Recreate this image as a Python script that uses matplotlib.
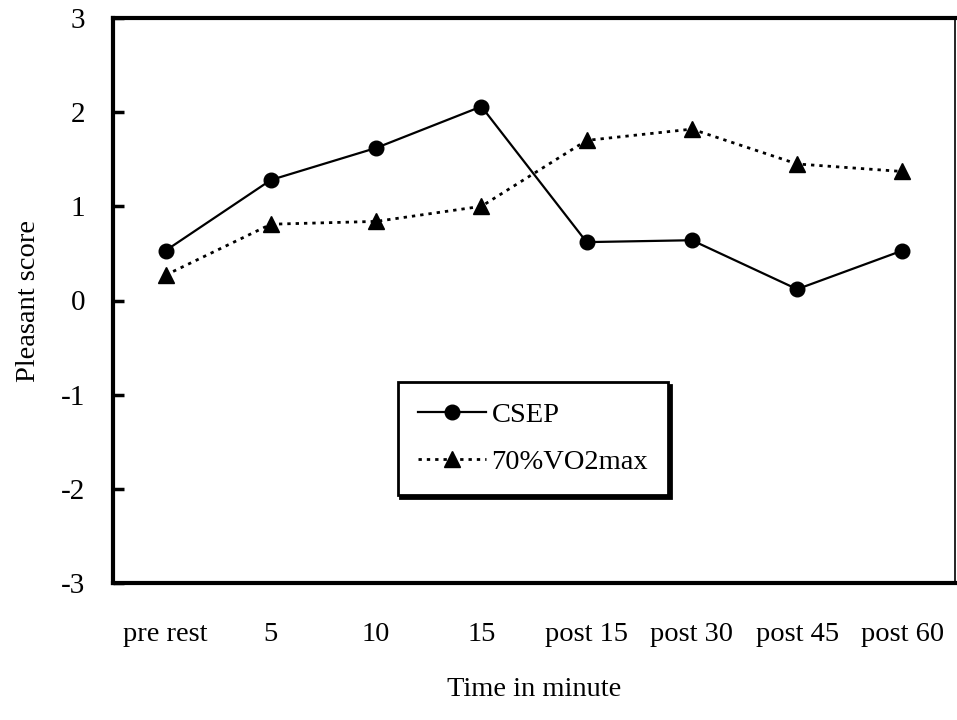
import matplotlib
matplotlib.use("Agg")
import matplotlib.pyplot as plt

categories = ["pre rest", "5", "10", "15", "post 15", "post 30", "post 45", "post 60"]
csep = [0.53, 1.28, 1.62, 2.06, 0.62, 0.64, 0.12, 0.53]
vo2 = [0.27, 0.81, 0.84, 1.00, 1.70, 1.82, 1.45, 1.37]
yticks = [-3, -2, -1, 0, 1, 2, 3]

plt.rcParams["font.family"] = ["Liberation Serif", "DejaVu Serif"]
plt.rcParams["font.size"] = 20.5
plt.rcParams["axes.unicode_minus"] = False

fig = plt.figure(figsize=(9.57, 7.2), dpi=100)
ax = fig.add_axes([113 / 957, 1 - 583 / 720, 842 / 957, 565 / 720])

x = list(range(len(categories)))
ax.plot(x, csep, "-o", color="black", lw=1.6, ms=10.5, label="CSEP")
ax.plot(x, vo2, "^", color="black", ms=11, ls=(0, (1.2, 1.8)), lw=2.0,
        label="70%VO2max")

ax.set_xlim(-0.5, len(categories) - 0.5)
ax.set_ylim(-3, 3)
ax.set_yticks(yticks)
ax.set_xticks(x, categories)
ax.tick_params(axis="y", direction="in", length=8, width=2.5, pad=20, labelsize=21)
ax.tick_params(axis="x", length=0, pad=28)
for s in ["left", "top", "bottom"]:
    ax.spines[s].set_linewidth(3)
ax.spines["right"].set_linewidth(1.2)

ax.set_xlabel("Time in minute", labelpad=22)
ax.set_ylabel("Pleasant score", labelpad=14)

leg = ax.legend(loc="upper left", bbox_to_anchor=(0.338, 0.356), fancybox=False,
                shadow={"color": "black", "alpha": 1}, framealpha=1,
                edgecolor="black", handlelength=2.4, handletextpad=0.2,
                borderpad=0.7, labelspacing=0.75, borderaxespad=0)
leg.get_frame().set_linewidth(2)

fig.savefig("out.png", dpi=100)
